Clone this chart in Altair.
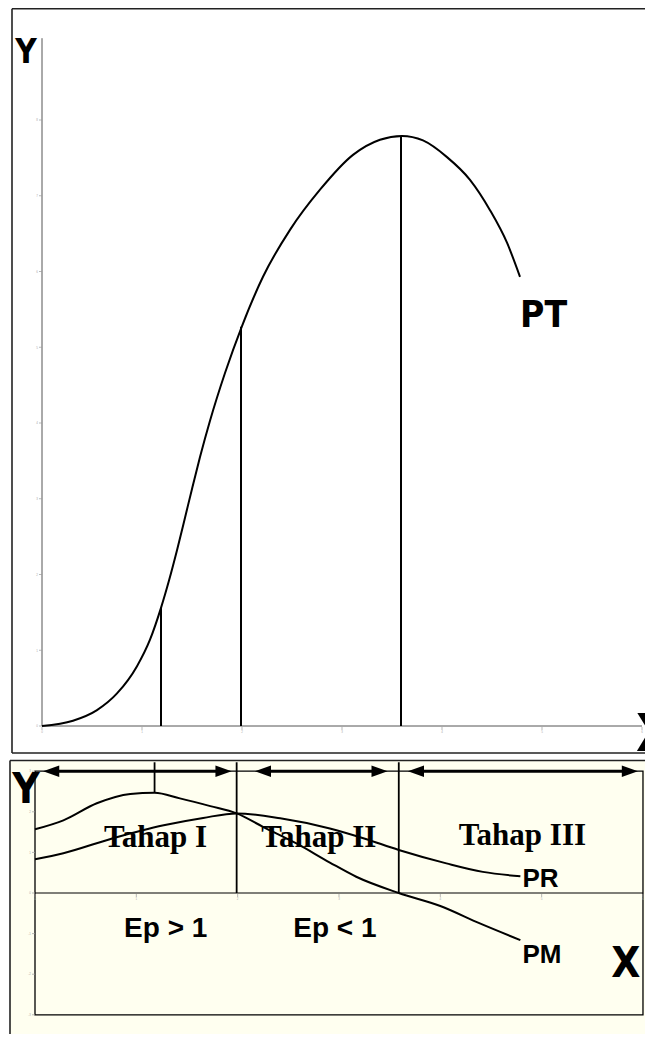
import altair as alt
import pandas as pd

# ---------------- data ----------------
# Top panel: total product curve (PT)
pt_x = [0, 0.31, 0.55, 0.75, 0.95, 1.08, 1.19, 1.27, 1.35, 1.43, 1.50, 1.58, 1.68, 1.83,
        2.00, 2.21, 2.48, 2.78, 3.11, 3.38, 3.60, 3.81, 4.05, 4.28, 4.48, 4.65, 4.78]
pt_y = [0, 0.07, 0.21, 0.43, 0.79, 1.14, 1.56, 1.92, 2.32, 2.75, 3.13, 3.55, 4.03, 4.66,
        5.28, 5.93, 6.55, 7.08, 7.54, 7.74, 7.79, 7.73, 7.51, 7.21, 6.81, 6.38, 5.93]
top_stage_x = [1.19, 1.99, 3.59]
top_stage_y = [1.56, 5.27, 7.79]
top_tick_x = [0, 1, 2, 3, 4, 5, 6]
top_tick_y = [0, 1, 2, 3, 4, 5, 6, 7, 8]

# Bottom panel: marginal product (PM) and average product (PR)
pm_x = [0, 0.28, 0.61, 0.94, 1.18, 1.43, 1.73, 1.99, 2.25, 2.58, 2.91, 3.17, 3.59, 4.00, 4.39, 4.79]
pm_y = [1.57, 1.79, 2.21, 2.44, 2.47, 2.33, 2.14, 1.96, 1.63, 1.22, 0.75, 0.40, 0.0, -0.32, -0.75, -1.16]
pr_x = [0, 0.28, 0.77, 1.27, 1.66, 1.99, 2.42, 2.91, 3.24, 3.59, 4.06, 4.42, 4.79]
pr_y = [0.83, 0.98, 1.35, 1.67, 1.85, 1.96, 1.84, 1.59, 1.35, 1.06, 0.73, 0.52, 0.41]
bot_stage_x = [1.18, 1.99, 3.59]
bot_stage_y = [2.47, 0.0, 0.0]
bot_tick_x = [0, 1, 2, 3, 4, 5, 6]
bot_tick_y = [-3, -2, -1, 0, 1, 2, 3]
arrow_x1 = [0.08, 2.17, 3.68]
arrow_x2 = [1.94, 3.48, 5.95]
stage_labels = ["Tahap I", "Tahap II", "Tahap III"]
stage_label_x = [1.19, 2.80, 4.81]
stage_label_y = [1.14, 1.14, 1.18]
ep_labels = ["Ep > 1", "Ep < 1"]
ep_x = [1.29, 2.96]
ep_y = [-1.08, -1.08]

# ---------------- layout / styling ----------------
NARROW = "DejaVu Sans Condensed, Liberation Sans Narrow, Liberation Sans, sans-serif"
SANS = "Liberation Sans, Arial, sans-serif"
SERIF = "Liberation Serif, Times New Roman, serif"

W, H = 637, 1026          # the whole drawing (page x 8..645, y 8..1034)
PX0, PY0 = 8, 8

# top panel scales: x 0 at page px 42 (100 px/unit), y 0 at page px 726 (75.75 px/unit)
tx0, tx1 = (PX0 - 42) / 100.0, (PX0 + W - 42) / 100.0
ty0, ty1 = (726 - (PY0 + H)) / 75.75, (726 - PY0) / 75.75
top_xs = alt.Scale(domain=[tx0, tx1], nice=False, zero=False)
top_ys = alt.Scale(domain=[ty0, ty1], nice=False, zero=False)

# bottom panel scales: x 0 at page px 35 (101.33 px/unit), y 0 at page px 893 (40.6 px/unit)
bx0, bx1 = (PX0 - 35) / 101.33, (PX0 + W - 35) / 101.33
by0, by1 = (893 - (PY0 + H)) / 40.6, (893 - PY0) / 40.6
bot_xs = alt.Scale(domain=[bx0, bx1], nice=False, zero=False)
bot_ys = alt.Scale(domain=[by0, by1], nice=False, zero=False)

# panel frames (in each panel's own units)
top_box = {"left": (12 - 42) / 100.0, "top": (726 - 8.8) / 75.75, "bottom": (726 - 753) / 75.75}
bot_box = {"left": (10 - 35) / 101.33, "top": (893 - 760.5) / 40.6}


def enc(xs, ys, x="x", y="y", x2=None, y2=None, **kw):
    e = dict(x=alt.X(f"{x}:Q", scale=xs, axis=None), y=alt.Y(f"{y}:Q", scale=ys, axis=None))
    if x2:
        e["x2"] = alt.X2(f"{x2}:Q")
    if y2:
        e["y2"] = alt.Y2(f"{y2}:Q")
    e.update(kw)
    return e


def text_layer(df, xs, ys, font, size, align="center", weight="bold"):
    return alt.Chart(df).mark_text(font=font, fontSize=size, fontWeight=weight, align=align,
                                   baseline="alphabetic", color="black").encode(
        **enc(xs, ys, text=alt.Text("t:N")))


def tick_layers(xs, ys, xt, yt):
    xdf = pd.DataFrame({"x": xt, "y": [0] * len(xt), "t": [str(v) for v in xt]})
    ydf = pd.DataFrame({"x": [0] * len(yt), "y": yt, "t": [str(v) for v in yt]})
    xticks = alt.Chart(xdf).mark_tick(orient="vertical", size=3, thickness=1, color="#9a9a9a",
                                      yOffset=2.5).encode(**enc(xs, ys))
    yticks = alt.Chart(ydf).mark_tick(orient="horizontal", size=3, thickness=1, color="#9a9a9a",
                                      xOffset=-1.5).encode(**enc(xs, ys))
    xlab = alt.Chart(xdf).mark_text(fontSize=3, color="#aaaaaa", baseline="top", dy=5).encode(
        **enc(xs, ys, text=alt.Text("t:N")))
    ylab = alt.Chart(ydf).mark_text(fontSize=3, color="#aaaaaa", align="right", dx=-4).encode(
        **enc(xs, ys, text=alt.Text("t:N")))
    return [xticks, yticks, xlab, ylab]


# ---------------- top panel ----------------
T = (top_xs, top_ys)
top_frame_h = alt.Chart(pd.DataFrame({"x": [top_box["left"]] * 2, "x2": [tx1] * 2,
                                      "y": [top_box["top"], top_box["bottom"]]})).mark_rule(
    color="#222", strokeWidth=1.6).encode(**enc(*T, x2="x2"))
top_frame_v = alt.Chart(pd.DataFrame({"x": [top_box["left"]], "y": [top_box["bottom"]],
                                      "y2": [top_box["top"]]})).mark_rule(
    color="#222", strokeWidth=1.6).encode(**enc(*T, y2="y2"))
x_axis_top = alt.Chart(pd.DataFrame({"x": [0], "x2": [6], "y": [0]})).mark_rule(
    color="#555", strokeWidth=1).encode(**enc(*T, x2="x2"))
y_axis_top = alt.Chart(pd.DataFrame({"x": [0], "y": [0], "y2": [9.08]})).mark_rule(
    color="#555", strokeWidth=1).encode(**enc(*T, y2="y2"))
pt_line = alt.Chart(pd.DataFrame({"x": pt_x, "y": pt_y})).mark_line(
    color="black", strokeWidth=2, interpolate="monotone").encode(**enc(*T))
top_vlines = alt.Chart(pd.DataFrame({"x": top_stage_x, "y0": [0, 0, 0], "y": top_stage_y})).mark_rule(
    color="black", strokeWidth=2).encode(**enc(*T, y="y0", y2="y"))
ylab_top = text_layer(pd.DataFrame({"t": ["Y"], "x": [-0.16], "y": [8.75]}), *T, NARROW, 33)
pt_lab = text_layer(pd.DataFrame({"t": ["PT"], "x": [4.78], "y": [5.27]}), *T, NARROW, 37, align="left")
xlab_top = text_layer(pd.DataFrame({"t": ["X"], "x": [5.94], "y": [-0.33]}), *T, NARROW, 52,
                      align="left")

top = alt.layer(top_frame_h, top_frame_v, x_axis_top, y_axis_top,
                *tick_layers(*T, top_tick_x, top_tick_y),
                pt_line, top_vlines, ylab_top, pt_lab, xlab_top)

# ---------------- bottom panel ----------------
B = (bot_xs, bot_ys)
bot_bg = alt.Chart(pd.DataFrame({"x": [bot_box["left"]], "x2": [bx1], "y": [by0],
                                 "y2": [bot_box["top"]]})).mark_rect(
    color="#fffff0").encode(**enc(*B, x2="x2", y2="y2"))
bot_frame_h = alt.Chart(pd.DataFrame({"x": [bot_box["left"]], "x2": [bx1],
                                      "y": [bot_box["top"]]})).mark_rule(
    color="#222", strokeWidth=1.6).encode(**enc(*B, x2="x2"))
bot_frame_v = alt.Chart(pd.DataFrame({"x": [bot_box["left"]], "y": [by0],
                                      "y2": [bot_box["top"]]})).mark_rule(
    color="#222", strokeWidth=1.6).encode(**enc(*B, y2="y2"))
frame = alt.Chart(pd.DataFrame({"x": [0], "x2": [6], "y": [-3], "y2": [3]})).mark_rect(
    fillOpacity=0, stroke="black", strokeWidth=1.3).encode(**enc(*B, x2="x2", y2="y2"))
zero_line = alt.Chart(pd.DataFrame({"x": [0], "x2": [6], "y": [0]})).mark_rule(
    color="black", strokeWidth=1.2).encode(**enc(*B, x2="x2"))
pm_line = alt.Chart(pd.DataFrame({"x": pm_x, "y": pm_y})).mark_line(
    color="black", strokeWidth=2, interpolate="monotone").encode(**enc(*B))
pr_line = alt.Chart(pd.DataFrame({"x": pr_x, "y": pr_y})).mark_line(
    color="black", strokeWidth=2, interpolate="monotone").encode(**enc(*B))
bot_vlines = alt.Chart(pd.DataFrame({"x": bot_stage_x, "y": bot_stage_y,
                                     "ytop": [3.22, 3.22, 3.22]})).mark_rule(
    color="black", strokeWidth=1.8).encode(**enc(*B, y2="ytop"))

arr = pd.DataFrame({"x1": arrow_x1, "x2": arrow_x2, "y": [3.0, 3.0, 3.0]})
arrow_shafts = alt.Chart(arr).transform_calculate(
    a="datum.x1 + 0.1", b="datum.x2 - 0.1").mark_rule(color="black", strokeWidth=3).encode(
    **enc(*B, x="a", x2="b"))
LEFT_HEAD = "M0,0 L2,-0.72 L2,0.72 Z"
RIGHT_HEAD = "M0,0 L-2,-0.72 L-2,0.72 Z"
heads_left = alt.Chart(arr).mark_point(shape=LEFT_HEAD, size=260, filled=True, color="black",
                                        opacity=1).encode(**enc(*B, x="x1"))
heads_right = alt.Chart(arr).mark_point(shape=RIGHT_HEAD, size=260, filled=True, color="black",
                                         opacity=1).encode(**enc(*B, x="x2"))

stage_txt = text_layer(pd.DataFrame({"t": stage_labels, "x": stage_label_x, "y": stage_label_y}),
                       *B, SERIF, 31)
ep_txt = text_layer(pd.DataFrame({"t": ep_labels, "x": ep_x, "y": ep_y}), *B, SANS, 28)
curve_txt = text_layer(pd.DataFrame({"t": ["PR", "PM"], "x": [4.81, 4.81], "y": [0.15, -1.72]}),
                       *B, SANS, 26, align="left")
bot_ax_txt = text_layer(pd.DataFrame({"t": ["Y", "X"], "x": [-0.09, 5.83], "y": [2.22, -2.07]}),
                        *B, NARROW, 42)

bottom = alt.layer(bot_bg, bot_frame_h, bot_frame_v, frame, zero_line,
                   *tick_layers(*B, bot_tick_x, bot_tick_y),
                   pm_line, pr_line, bot_vlines, arrow_shafts, heads_left, heads_right,
                   stage_txt, ep_txt, curve_txt, bot_ax_txt)

chart = alt.layer(top, bottom).resolve_scale(x="independent", y="independent").properties(
    width=W, height=H,
    autosize=alt.AutoSizeParams(type="none"),
    padding=0,
    background="white",
).configure_view(strokeWidth=0)

chart.save("out.html", embed_options={"renderer": "svg", "actions": False})
